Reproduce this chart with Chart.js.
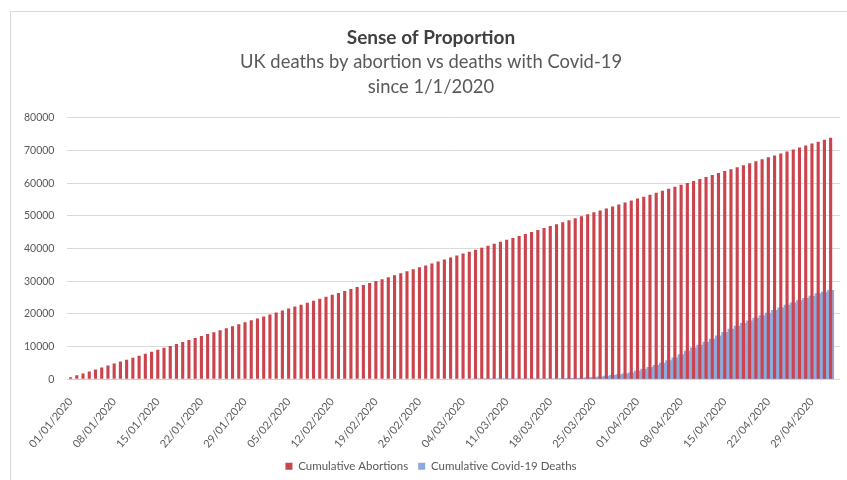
<!DOCTYPE html>
<html>
<head>
<meta charset="utf-8">
<script src="https://cdn.jsdelivr.net/npm/chart.js@4/dist/chart.umd.min.js"></script>
<style>
    html, body { margin: 0; padding: 0; background: #ffffff; }
    body { width: 847px; height: 480px; overflow: hidden; position: relative; }
    #frame {
        position: absolute;
        left: 10px;
        top: 11px;
        width: 845px;
        height: 475px;
        border: 1px solid #d9d9d9;
        box-sizing: border-box;
    }
    #chart-box { position: absolute; left: 0; top: 0; width: 844px; height: 468px; }
</style>
</head>
<body>
<div id="frame">
    <div id="chart-box"><canvas id="chart"></canvas></div>
</div>
<script>
// Tageskategorien 01/01/2020 bis 03/05/2020
const dates = [
    '01/01/2020','02/01/2020','03/01/2020','04/01/2020','05/01/2020','06/01/2020','07/01/2020',
    '08/01/2020','09/01/2020','10/01/2020','11/01/2020','12/01/2020','13/01/2020','14/01/2020',
    '15/01/2020','16/01/2020','17/01/2020','18/01/2020','19/01/2020','20/01/2020','21/01/2020',
    '22/01/2020','23/01/2020','24/01/2020','25/01/2020','26/01/2020','27/01/2020','28/01/2020',
    '29/01/2020','30/01/2020','31/01/2020','01/02/2020','02/02/2020','03/02/2020','04/02/2020',
    '05/02/2020','06/02/2020','07/02/2020','08/02/2020','09/02/2020','10/02/2020','11/02/2020',
    '12/02/2020','13/02/2020','14/02/2020','15/02/2020','16/02/2020','17/02/2020','18/02/2020',
    '19/02/2020','20/02/2020','21/02/2020','22/02/2020','23/02/2020','24/02/2020','25/02/2020',
    '26/02/2020','27/02/2020','28/02/2020','29/02/2020','01/03/2020','02/03/2020','03/03/2020',
    '04/03/2020','05/03/2020','06/03/2020','07/03/2020','08/03/2020','09/03/2020','10/03/2020',
    '11/03/2020','12/03/2020','13/03/2020','14/03/2020','15/03/2020','16/03/2020','17/03/2020',
    '18/03/2020','19/03/2020','20/03/2020','21/03/2020','22/03/2020','23/03/2020','24/03/2020',
    '25/03/2020','26/03/2020','27/03/2020','28/03/2020','29/03/2020','30/03/2020','31/03/2020',
    '01/04/2020','02/04/2020','03/04/2020','04/04/2020','05/04/2020','06/04/2020','07/04/2020',
    '08/04/2020','09/04/2020','10/04/2020','11/04/2020','12/04/2020','13/04/2020','14/04/2020',
    '15/04/2020','16/04/2020','17/04/2020','18/04/2020','19/04/2020','20/04/2020','21/04/2020',
    '22/04/2020','23/04/2020','24/04/2020','25/04/2020','26/04/2020','27/04/2020','28/04/2020',
    '29/04/2020','30/04/2020','01/05/2020','02/05/2020','03/05/2020'
];

// Kumulative Abtreibungen
const abortions = [
    601, 1202, 1803, 2404, 3005, 3606, 4207, 4808, 5409, 6010,
    6611, 7212, 7813, 8414, 9015, 9616, 10217, 10818, 11419, 12020,
    12621, 13222, 13823, 14424, 15025, 15626, 16227, 16828, 17429, 18030,
    18631, 19232, 19833, 20434, 21035, 21636, 22237, 22838, 23439, 24040,
    24641, 25242, 25843, 26444, 27045, 27646, 28247, 28848, 29449, 30050,
    30651, 31252, 31853, 32454, 33055, 33656, 34257, 34858, 35459, 36060,
    36661, 37262, 37863, 38464, 39065, 39666, 40267, 40868, 41469, 42070,
    42671, 43272, 43873, 44474, 45075, 45676, 46277, 46878, 47479, 48080,
    48681, 49282, 49883, 50484, 51085, 51686, 52287, 52888, 53489, 54090,
    54691, 55292, 55893, 56494, 57095, 57696, 58297, 58898, 59499, 60100,
    60701, 61302, 61903, 62504, 63105, 63706, 64307, 64908, 65509, 66110,
    66711, 67312, 67913, 68514, 69115, 69716, 70317, 70918, 71519, 72120,
    72721, 73322, 73923
];

// Kumulative Covid-19-Todesfälle
const covidDeaths = [
    0, 0, 0, 0, 0, 0, 0, 0, 0, 0,
    0, 0, 0, 0, 0, 0, 0, 0, 0, 0,
    0, 0, 0, 0, 0, 0, 0, 0, 0, 0,
    0, 0, 0, 0, 0, 0, 0, 0, 0, 0,
    0, 0, 0, 0, 0, 0, 0, 0, 0, 0,
    0, 0, 0, 0, 0, 0, 0, 0, 0, 0,
    0, 0, 0, 0, 0, 1, 2, 3, 4, 6,
    10, 15, 20, 30, 45, 60, 90, 120, 160, 210,
    260, 320, 400, 500, 620, 780, 980, 1200, 1420, 1650,
    2000, 2500, 3100, 3700, 4300, 5000, 5700, 6600, 7600, 8600,
    9600, 10500, 11400, 12300, 13300, 14400, 15400, 16300, 17100, 17900,
    18700, 19500, 20300, 21100, 21900, 22700, 23400, 24100, 24800, 25500,
    26200, 26700, 27200
];

// Y-Achse
const yMax = 80000;
const yStep = 10000;

const textGrey = '#595959';

new Chart(document.getElementById('chart').getContext('2d'), {
    type: 'bar',
    data: {
        labels: dates,
        datasets: [
            {
                label: 'Cumulative Abortions',
                data: abortions,
                backgroundColor: '#c9444d',
                barPercentage: 0.5,
                categoryPercentage: 1.0,
                grouped: false,
                order: 0
            },
            {
                label: 'Cumulative Covid-19 Deaths',
                data: covidDeaths,
                backgroundColor: '#8eaadc',
                barPercentage: 1.0,
                categoryPercentage: 1.0,
                grouped: false,
                order: 1
            }
        ]
    },
    options: {
        responsive: true,
        maintainAspectRatio: false,
        animation: false,
        layout: {
            padding: { left: 0, right: 4, top: 10, bottom: -2 }
        },
        plugins: {
            title: {
                display: true,
                text: 'Sense of Proportion',
                color: '#404040',
                font: { family: 'Lato', size: 19, weight: 'bold' },
                padding: { top: 4, bottom: 1 }
            },
            subtitle: {
                display: true,
                text: ['UK deaths by abortion vs deaths with Covid-19', 'since 1/1/2020'],
                color: textGrey,
                font: { family: 'Lato', size: 18.4, lineHeight: 1.36 },
                padding: { top: 0, bottom: 18 }
            },
            legend: {
                position: 'bottom',
                labels: {
                    color: textGrey,
                    font: { family: 'Lato', size: 11.5 },
                    boxWidth: 7,
                    boxHeight: 7,
                    padding: 10
                }
            },
            tooltip: { enabled: false }
        },
        scales: {
            x: {
                grid: { display: false },
                border: { color: '#d9d9d9' },
                ticks: {
                    autoSkip: false,
                    minRotation: 50,
                    maxRotation: 50,
                    padding: 8,
                    color: textGrey,
                    font: { family: 'Lato', size: 11 },
                    callback: function (value, index) {
                        return index % 7 === 0 ? dates[index] : '';
                    }
                },
                // Achsenhöhe etwas verkleinern, damit die Legende näher rückt
                afterFit: function (scale) {
                    scale.height -= 8;
                }
            },
            y: {
                min: 0,
                max: yMax,
                grid: { color: '#d9d9d9', drawTicks: false },
                border: { display: false },
                ticks: {
                    stepSize: yStep,
                    padding: 13,
                    color: textGrey,
                    font: { family: 'Lato', size: 10.5 },
                    callback: function (value) {
                        return String(value);
                    }
                }
            }
        }
    }
});
</script>
</body>
</html>
